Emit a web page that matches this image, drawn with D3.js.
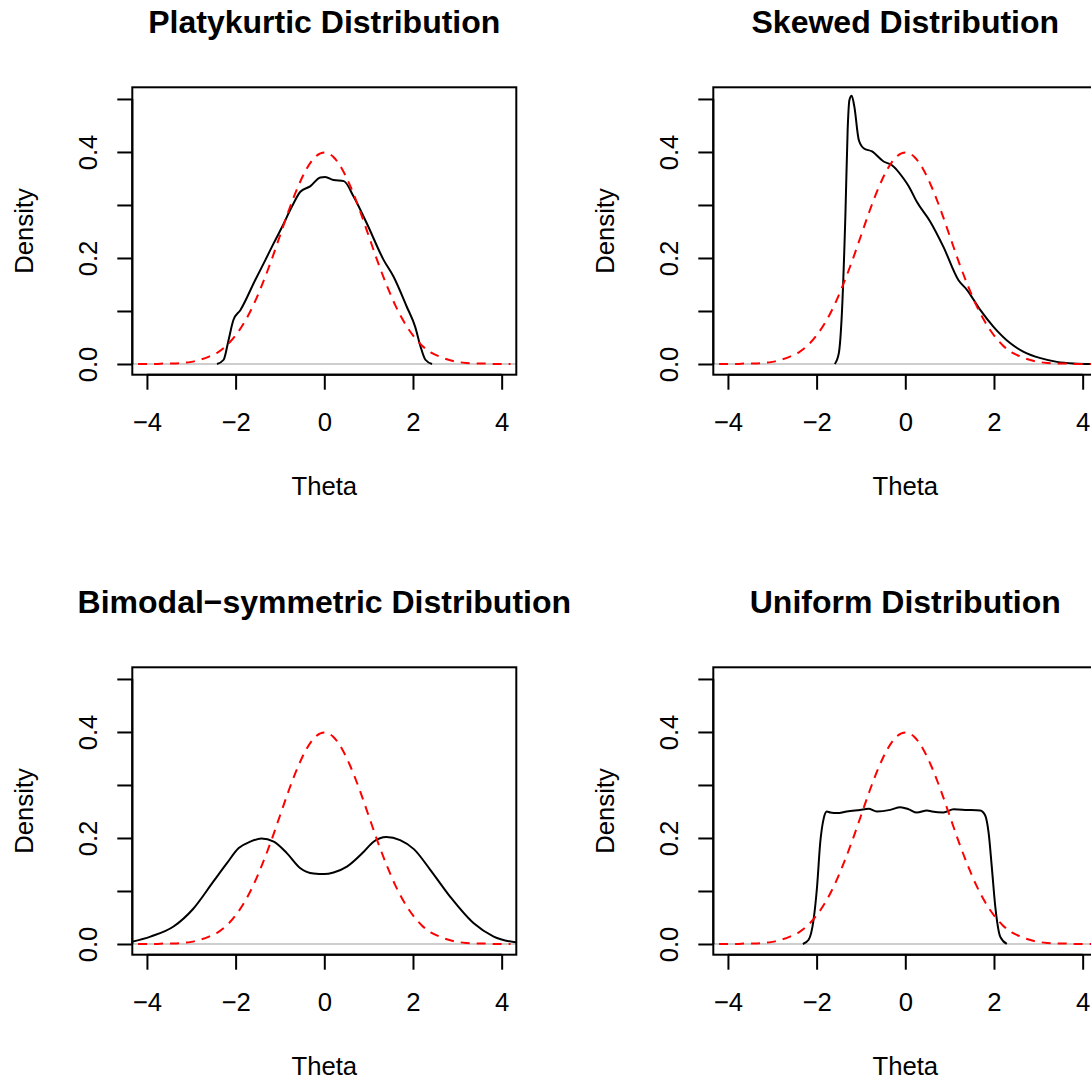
<!DOCTYPE html>
<html>
<head>
<meta charset="utf-8">
<script src="https://cdn.jsdelivr.net/npm/d3@7"></script>
<style>
  body { margin: 0; background: #fff; }
  text { font-family: "Liberation Sans", Arial, sans-serif; fill: #000; }
</style>
</head>
<body>
<div id="chart"></div>
<script>
// reference normal curve (red dashed)
var normTheta = [-4.2, -4.0, -3.8, -3.6, -3.4, -3.2, -3.0, -2.8, -2.6, -2.4, -2.2, -2.0, -1.8, -1.6, -1.4, -1.2, -1.0, -0.8, -0.6, -0.4, -0.2, 0,
                 0.2, 0.4, 0.6, 0.8, 1.0, 1.2, 1.4, 1.6, 1.8, 2.0, 2.2, 2.4, 2.6, 2.8, 3.0, 3.2, 3.4, 3.6, 3.8, 4.0, 4.2];
var normDensity = [0.000, 0.000, 0.000, 0.001, 0.001, 0.002, 0.004, 0.008, 0.014, 0.022, 0.035, 0.054, 0.079, 0.111, 0.150, 0.194, 0.242, 0.290, 0.333, 0.368, 0.391, 0.399,
                   0.391, 0.368, 0.333, 0.290, 0.242, 0.194, 0.150, 0.111, 0.079, 0.054, 0.035, 0.022, 0.014, 0.008, 0.004, 0.002, 0.001, 0.001, 0.000, 0.000, 0.000];

var platyTheta = [-2.42, -2.27, -2.16, -2.05, -1.89, -1.56, -1.33, -1.14, -0.95, -0.73, -0.54, -0.32, -0.09, 0.02, 0.21, 0.44, 0.66, 0.96, 1.34, 1.56, 1.86, 2.05, 2.17, 2.28, 2.43];
var platyDensity = [0, 0.008, 0.045, 0.083, 0.102, 0.158, 0.196, 0.228, 0.259, 0.297, 0.325, 0.335, 0.352, 0.353, 0.347, 0.345, 0.316, 0.265, 0.196, 0.165, 0.108, 0.070, 0.033, 0.008, 0];

var skewTheta = [-1.59, -1.50, -1.43, -1.35, -1.30, -1.26, -1.21, -1.15, -1.05, -0.94, -0.75, -0.49, -0.30, -0.04, 0.08, 0.26, 0.56, 0.86, 1.20, 1.39, 1.69, 1.99, 2.37, 2.67, 3.05, 3.42, 3.80, 4.20];
var skewDensity = [0, 0.020, 0.096, 0.284, 0.442, 0.498, 0.506, 0.486, 0.423, 0.407, 0.401, 0.382, 0.375, 0.350, 0.335, 0.306, 0.269, 0.221, 0.158, 0.140, 0.102, 0.070, 0.039, 0.023, 0.011, 0.004, 0.001, 0];

var bimodTheta = [-4.40, -3.92, -3.40, -2.95, -2.50, -2.20, -1.93, -1.67, -1.42, -1.14, -0.84, -0.54, -0.24, 0, 0.21, 0.51, 0.89, 1.11, 1.40, 1.71, 2.02, 2.39, 2.84, 3.37, 3.82, 4.40];
var bimodDensity = [0.003, 0.014, 0.033, 0.067, 0.118, 0.152, 0.181, 0.193, 0.199, 0.193, 0.171, 0.143, 0.133, 0.132, 0.135, 0.146, 0.174, 0.193, 0.202, 0.196, 0.179, 0.140, 0.089, 0.039, 0.014, 0.002];

var unifTheta = [-2.31, -2.18, -2.07, -1.99, -1.92, -1.84, -1.77, -1.69, -1.54, -1.32, -1.02, -0.83, -0.64, -0.34, -0.11, 0.08, 0.26, 0.49, 0.60, 0.86, 1.09, 1.39, 1.69, 1.80, 1.88, 1.95, 2.03, 2.14, 2.29];
var unifDensity = [0, 0.008, 0.045, 0.108, 0.190, 0.237, 0.250, 0.248, 0.247, 0.250, 0.253, 0.255, 0.250, 0.253, 0.258, 0.254, 0.248, 0.252, 0.250, 0.248, 0.254, 0.253, 0.252, 0.243, 0.209, 0.146, 0.070, 0.014, 0];

var titles = ["Platykurtic Distribution", "Skewed Distribution", "Bimodal\u2212symmetric Distribution", "Uniform Distribution"];
var xTicks = [-4, -2, 0, 2, 4];
var yTicks = [0, 0.1, 0.2, 0.3, 0.4, 0.5];
var yTickLabels = [0, 0.2, 0.4];

var panels = [
    { title: titles[0], theta: platyTheta, dens: platyDensity, dx: 0, dy: 0 },
    { title: titles[1], theta: skewTheta, dens: skewDensity, dx: 581, dy: 0 },
    { title: titles[2], theta: bimodTheta, dens: bimodDensity, dx: 0, dy: 580 },
    { title: titles[3], theta: unifTheta, dens: unifDensity, dx: 581, dy: 580 }
];

var width = 1091;
var height = 1084;
var boxLeft = 132.3, boxRight = 516.3, boxTop = 87.3, boxBottom = 374.7;
var labelSize = "25.7px";

var svg = d3.select("#chart").append("svg")
    .attr("width", width)
    .attr("height", height);

var xScale = d3.scaleLinear().domain([-4.33, 4.33]).range([boxLeft, boxRight]);
var yScale = d3.scaleLinear().domain([-0.0202, 0.522]).range([boxBottom, boxTop]);

var fmt = function(v) { return d3.format(".1f")(v); };
var minus = function(v) { return String(v).replace("-", "\u2212"); };

panels.forEach(function(p, i) {
    var g = svg.append("g")
        .attr("transform", "translate(" + p.dx + "," + p.dy + ")");

    g.append("clipPath").attr("id", "clip" + i)
        .append("rect")
        .attr("x", boxLeft).attr("y", boxTop)
        .attr("width", boxRight - boxLeft).attr("height", boxBottom - boxTop);

    var plot = g.append("g").attr("clip-path", "url(#clip" + i + ")");

    // zero line
    plot.append("line")
        .attr("x1", boxLeft).attr("x2", boxRight)
        .attr("y1", yScale(0)).attr("y2", yScale(0))
        .attr("stroke", "#bebebe").attr("stroke-width", 1.5);

    var line = d3.line()
        .x(function(d) { return xScale(d[0]); })
        .y(function(d) { return yScale(d[1]); })
        .curve(d3.curveMonotoneX);

    plot.append("path")
        .datum(p.theta.map(function(t, j) { return [t, p.dens[j]]; }))
        .attr("d", line)
        .attr("fill", "none")
        .attr("stroke", "#000")
        .attr("stroke-width", 2);

    plot.append("path")
        .datum(normTheta.map(function(t, j) { return [t, normDensity[j]]; }))
        .attr("d", line)
        .attr("fill", "none")
        .attr("stroke", "#ff0000")
        .attr("stroke-width", 2)
        .attr("stroke-dasharray", "9,7");

    // box
    g.append("rect")
        .attr("x", boxLeft).attr("y", boxTop)
        .attr("width", boxRight - boxLeft).attr("height", boxBottom - boxTop)
        .attr("fill", "none").attr("stroke", "#000").attr("stroke-width", 2);

    // axes
    var xAxis = d3.axisBottom(xScale).tickValues(xTicks).tickSize(15).tickPadding(23)
        .tickFormat(minus);
    g.append("g")
        .attr("transform", "translate(0," + boxBottom + ")")
        .call(xAxis)
        .call(function(a) {
            a.select(".domain").attr("d", "M" + xScale(-4) + ",0H" + xScale(4))
                .attr("stroke-width", 2);
            a.selectAll(".tick line").attr("stroke-width", 2);
            a.selectAll("text").style("font-size", labelSize)
                .style("font-family", "Liberation Sans, Arial, sans-serif");
        });

    var yAxis = d3.axisLeft(yScale).tickValues(yTicks).tickSize(15)
        .tickFormat(function(v) { return yTickLabels.indexOf(v) >= 0 ? fmt(v) : ""; });
    g.append("g")
        .attr("transform", "translate(" + boxLeft + ",0)")
        .call(yAxis)
        .call(function(a) {
            a.select(".domain").attr("d", "M0," + yScale(0) + "V" + yScale(0.5))
                .attr("stroke-width", 2);
            a.selectAll(".tick line").attr("stroke-width", 2);
            a.selectAll("text")
                .attr("x", null).attr("dy", null)
                .attr("text-anchor", "middle")
                .attr("transform", "translate(-35,0) rotate(-90)")
                .style("font-size", labelSize)
                .style("font-family", "Liberation Sans, Arial, sans-serif");
        });

    // labels
    g.append("text")
        .attr("x", (boxLeft + boxRight) / 2).attr("y", 33)
        .attr("text-anchor", "middle")
        .style("font-size", "32px").style("font-weight", "bold")
        .text(p.title);

    g.append("text")
        .attr("x", (boxLeft + boxRight) / 2).attr("y", 495)
        .attr("text-anchor", "middle")
        .style("font-size", labelSize)
        .text("Theta");

    g.append("text")
        .attr("transform", "translate(33," + (boxTop + boxBottom) / 2 + ") rotate(-90)")
        .attr("text-anchor", "middle")
        .style("font-size", labelSize)
        .text("Density");
});
</script>
</body>
</html>
